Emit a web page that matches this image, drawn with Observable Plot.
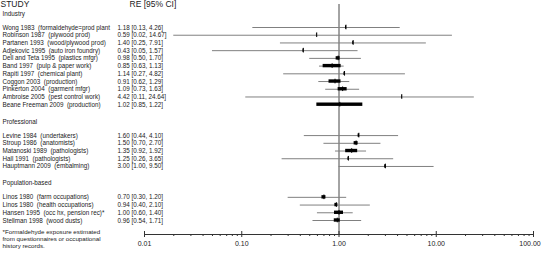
<!DOCTYPE html>
<html><head><meta charset="utf-8">
<script src="https://cdn.jsdelivr.net/npm/d3@7"></script>
<script src="https://cdn.jsdelivr.net/npm/@observablehq/plot@0.6"></script>
<style>body{margin:0;background:#fff} svg{display:block} svg text{white-space:pre}</style>
</head><body><div id="chart"></div>
<script>
const groups = ["Industry", "Professional", "Population-based"];
const studies = [
  "Wong 1983  (formaldehyde=prod plant",
  "Robinson 1987  (plywood prod)",
  "Partanen 1993  (wood/plywood prod)",
  "Adjekovic 1995  (auto iron foundry)",
  "Dell and Teta 1995  (plastics mfgr)",
  "Band 1997  (pulp & paper work)",
  "Rapiti 1997  (chemical plant)",
  "Coggon 2003  (production)",
  "Pinkerton 2004  (garment mfgr)",
  "Ambroise 2005  (pest control work)",
  "Beane Freeman 2009  (production)",
  "Levine 1984  (undertakers)",
  "Stroup 1986  (anatomists)",
  "Matanoski 1989  (pathologists)",
  "Hall 1991  (pathologists)",
  "Hauptmann 2009  (embalming)",
  "Linos 1980  (farm occupations)",
  "Linos 1980  (health occupations)",
  "Hansen 1995  (occ hx, pension rec)*",
  "Stellman 1998  (wood dusts)"
];
const studyGroup = [0,0,0,0,0,0,0,0,0,0,0, 1,1,1,1,1, 2,2,2,2];
const estimates = [1.18,0.59,1.40,0.43,0.98,0.85,1.14,0.91,1.09,4.42,1.02, 1.60,1.50,1.35,1.25,3.00, 0.70,0.94,1.00,0.96];
const lower     = [0.13,0.02,0.25,0.05,0.50,0.63,0.27,0.62,0.73,0.11,0.85, 0.44,0.70,0.92,0.26,1.00, 0.30,0.40,0.60,0.54];
const upper     = [4.26,14.67,7.91,1.57,1.70,1.13,4.82,1.29,1.63,24.64,1.22, 4.10,2.70,1.92,3.65,9.50, 1.20,2.10,1.40,1.71];
const weights   = [1,0.5,1,0.8,4,18,1.2,12,9,0.5,46, 1.5,4,12,1,1.5, 4,3,9,6];
const majorTicks = [0.01, 0.1, 1, 10, 100];
const minorTicks = [0.02,0.03,0.04,0.05,0.06,0.07,0.08,0.09,
                    0.2,0.3,0.4,0.5,0.6,0.7,0.8,0.9,
                    2,3,4,5,6,7,8,9,
                    20,30,40,50,60,70,80,90];
const footnote = "*Formaldehyde exposure estimated\nfrom questionnaires or occupational\nhistory records.";

const fmt = d3.format(".2f");
const rows = [], headers = [];
let r = 0;
groups.forEach((g, gi) => {
  headers.push({text: g, row: r - 1.8});
  studies.forEach((s, i) => {
    if (studyGroup[i] === gi) rows.push({label: s, est: estimates[i], lo: lower[i], hi: upper[i], w: weights[i], row: r++});
  });
  r += 3;
});
const lastRow = r - 4;
const half = 0.5 / 97.3; // decades per unit weight (half width)
const lastTick = majorTicks[majorTicks.length - 1];

const chart = Plot.plot({
  width: 542, height: 264,
  marginLeft: 144, marginRight: 9, marginTop: 4, marginBottom: 30,
  style: {fontFamily: "'Liberation Sans', Arial, sans-serif", fontSize: "6.3px", color: "#222", background: "#fff"},
  x: {type: "log", domain: [0.01, 100]},
  y: {domain: [0, lastRow], range: [27, 220], axis: null},
  marks: [
    Plot.ruleX([1], {stroke: "#333", strokeWidth: 0.9}),
    Plot.frame({anchor: "bottom", stroke: "#333"}),
    Plot.axisX(minorTicks, {tickSize: 2, tickFormat: () => "", stroke: "#333"}),
    Plot.axisX(majorTicks, {tickSize: 6, dy: -3, tickFormat: () => "", stroke: "#333"}),
    Plot.text(majorTicks.slice(0, -1), {x: d => d, text: d => fmt(d), frameAnchor: "bottom", dy: 11, fontSize: 7, fill: "#222"}),
    Plot.text([lastTick], {x: d => d, text: d => fmt(d), frameAnchor: "bottom", dy: 11, dx: -3.5, fontSize: 7, fill: "#222"}),
    Plot.ruleY(rows, {y: "row", x1: "lo", x2: "hi", stroke: "#808080", strokeWidth: 1}),
    Plot.rect(rows, {x1: d => d.est / 10 ** (d.w * half), x2: d => d.est * 10 ** (d.w * half),
                     y1: d => d.row - 0.22, y2: d => d.row + 0.22, fill: "black", inset: 0}),
    Plot.ruleX(rows, {x: "est", y1: d => d.row - 0.3, y2: d => d.row + 0.3, stroke: "black", strokeWidth: 1}),
    Plot.text(rows, {y: "row", text: "label", frameAnchor: "left", dx: -142, textAnchor: "start", fill: "#222"}),
    Plot.text(rows, {y: "row", text: d => `${fmt(d.est)} [${fmt(d.lo)}, ${fmt(d.hi)}]`, frameAnchor: "left", dx: -27, textAnchor: "start", fill: "#222"}),
    Plot.text(headers, {y: "row", text: "text", frameAnchor: "left", dx: -142, textAnchor: "start", fill: "#222"}),
    Plot.text(["STUDY"], {y: () => -3, text: d => d, frameAnchor: "left", dx: -144, textAnchor: "start", fontSize: 8.5, fill: "#222"}),
    Plot.text(["RE [95% CI]"], {y: () => -3, text: d => d, frameAnchor: "left", dx: -15, textAnchor: "start", fontSize: 8.5, fill: "#222"}),
    Plot.text([footnote], {text: d => d, frameAnchor: "bottom-left", dx: -142, dy: 13, textAnchor: "start", lineHeight: 1.1, fontSize: 6.2, fill: "#222"})
  ]
});
document.getElementById("chart").append(chart);
</script></body></html>
